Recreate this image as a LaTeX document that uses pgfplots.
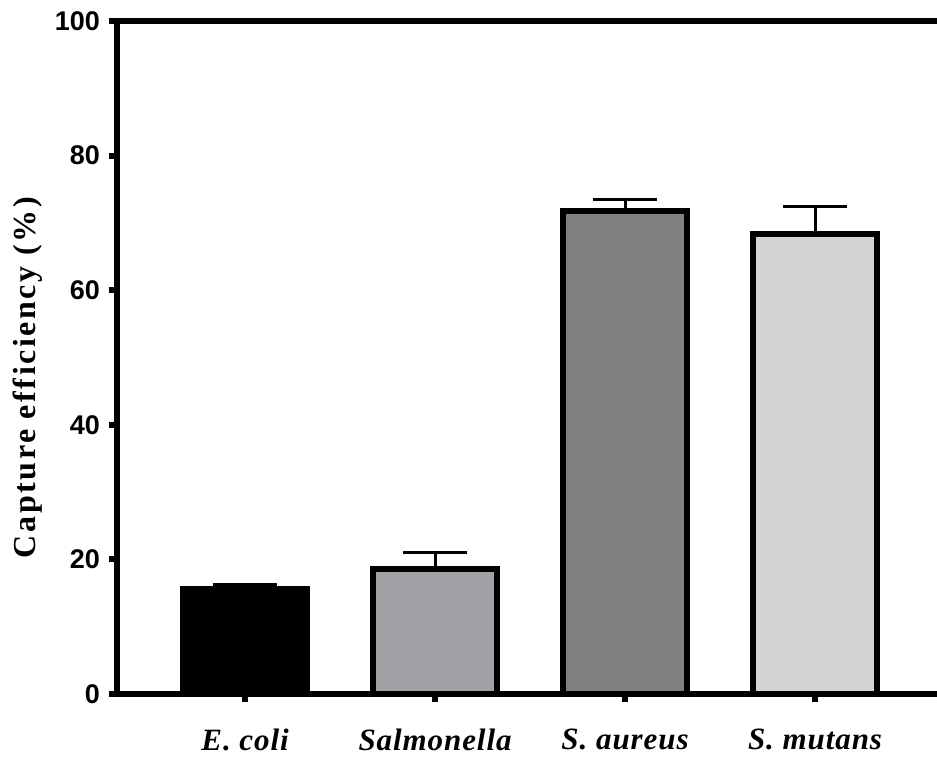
\documentclass[border=0pt]{standalone}
\usepackage{fontspec}
\setmainfont{Liberation Serif}
\newfontfamily\arial{Liberation Sans}
\newfontfamily\ylabfont[LetterSpace=8]{Liberation Serif}
\newfontfamily\xlabfont[LetterSpace=3]{Liberation Serif}
\usepackage{pgfplots}
\pgfplotsset{compat=1.18}
\definecolor{cEcoli}{HTML}{000000}
\definecolor{cSal}{HTML}{A2A2A6}
\definecolor{cSa}{HTML}{808080}
\definecolor{cSm}{HTML}{D4D4D4}
\pgfplotsset{
  myerr/.style={error bars/.cd, y dir=plus, y explicit,
    error bar style={line width=1.5pt, black},
    error mark options={line width=1.5pt, mark size=16pt, rotate=90, black}},
}
\begin{document}
\begin{tikzpicture}
\useasboundingbox (0,0) rectangle (468.5pt,380pt);
\begin{axis}[
  at={(58.5pt,33pt)}, anchor=south west,
  width=410pt, height=336.5pt, scale only axis,
  axis x line=box, axis y line=left,
  xtick pos=bottom,
  axis line style={line width=3pt, black},
  y axis line style={-},
  xmin=-0.674, xmax=3.642,
  ymin=0, ymax=100,
  ytick={0,20,40,60,80,100},
  xtick={0,1,2,3},
  xticklabels={E. coli, Salmonella, S. aureus, S. mutans},
  tick align=outside,
  major tick length=4pt,
  tick style={line width=3pt, black},
  /pgf/number format/assume math mode=true,
  yticklabel style={font=\arial\bfseries\fontsize{13.5}{16}\selectfont, xshift=-1pt},
  xticklabel style={font=\xlabfont\bfseries\itshape\fontsize{15.5}{18}\selectfont, yshift=-10pt},
  ylabel={Capture efficiency (\%)},
  ylabel style={font=\ylabfont\bfseries\fontsize{16}{19}\selectfont, at={(axis description cs:-0.1085,0.47)}, anchor=center},
  ybar, bar width=0.653, bar shift=0pt,
]
\addplot[fill=cEcoli, draw=black, line width=3pt, myerr] coordinates {(0,15.6) +- (0,0.7)};
\addplot[fill=cSal, draw=black, line width=3pt, myerr] coordinates {(1,18.6) +- (0,2.4)};
\addplot[fill=cSa, draw=black, line width=3pt, myerr] coordinates {(2,71.8) +- (0,1.7)};
\addplot[fill=cSm, draw=black, line width=3pt, myerr] coordinates {(3,68.3) +- (0,4.2)};
\end{axis}
\end{tikzpicture}
\end{document}
